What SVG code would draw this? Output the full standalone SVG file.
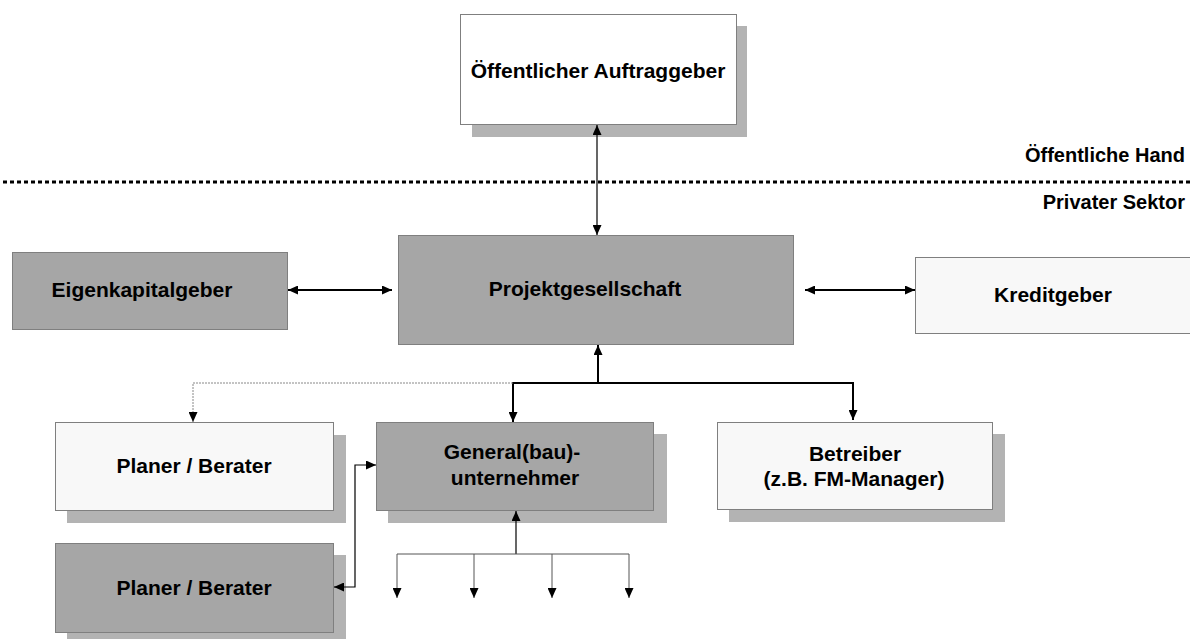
<svg xmlns="http://www.w3.org/2000/svg" width="1190" height="639" viewBox="0 0 1190 639">
<style>
.t{font-family:"Liberation Sans",Arial,sans-serif;font-weight:bold;font-size:21px;fill:#000;text-anchor:middle}
.s{font-family:"Liberation Sans",Arial,sans-serif;font-weight:bold;font-size:20px;fill:#000;text-anchor:end}
.sh{fill:#b3b3b3;stroke:none}
.g{fill:#a6a6a6;stroke:#7f7f7f;stroke-width:1}
.l{fill:#f8f8f8;stroke:#7f7f7f;stroke-width:1}
.w{fill:#ffffff;stroke:#7f7f7f;stroke-width:1}
.c{fill:none;stroke:#000;stroke-width:1.2}
.c2{fill:none;stroke:#000;stroke-width:2}
.c3{fill:none;stroke:#555;stroke-width:1}
.d{fill:none;stroke:#888;stroke-width:1;stroke-dasharray:2 1}
</style>
<defs>
<marker id="a" viewBox="0 0 10 9" refX="10" refY="4.5" markerWidth="10" markerHeight="9" markerUnits="userSpaceOnUse" orient="auto-start-reverse">
<path d="M0,0 L10,4.5 L0,9 z" fill="#000"/>
</marker>
</defs>
<line x1="3" y1="182" x2="1190" y2="182" stroke="#000" stroke-width="3" stroke-dasharray="4 3"/>
<text class="s" x="1185" y="162">Öffentliche Hand</text>
<text class="s" x="1185" y="209">Privater Sektor</text>
<g id="n-auftraggeber">
<rect class="sh" x="472" y="26" width="275" height="111"/>
<rect class="w" x="460.5" y="14.5" width="276" height="110"/>
<text class="t" x="598" y="78">Öffentlicher Auftraggeber</text>
</g>
<g id="n-eigenkapital">
<rect class="g" x="12.5" y="252.5" width="275" height="77"/>
<text class="t" x="142" y="297">Eigenkapitalgeber</text>
</g>
<g id="n-projekt">
<rect class="g" x="398.5" y="235.5" width="395" height="109"/>
<text class="t" x="585" y="296">Projektgesellschaft</text>
</g>
<g id="n-kredit">
<rect class="l" x="915.5" y="257.5" width="280" height="76"/>
<text class="t" x="1053" y="302">Kreditgeber</text>
</g>
<g id="n-planer1">
<rect class="sh" x="67" y="435" width="279" height="88"/>
<rect class="l" x="55.5" y="422.5" width="278" height="88"/>
<text class="t" x="194" y="473">Planer / Berater</text>
</g>
<g id="n-general">
<rect class="sh" x="388" y="434" width="279" height="89"/>
<rect class="g" x="376.5" y="422.5" width="277" height="88"/>
<text class="t" x="512" y="459">General(bau)-</text>
<text class="t" x="515" y="485">unternehmer</text>
</g>
<g id="n-betreiber">
<rect class="sh" x="729" y="434" width="276" height="88"/>
<rect class="l" x="717.5" y="422.5" width="275" height="87"/>
<text class="t" x="855" y="461">Betreiber</text>
<text class="t" x="854" y="486">(z.B. FM-Manager)</text>
</g>
<g id="n-planer2">
<rect class="sh" x="67" y="555" width="279" height="90"/>
<rect class="g" x="55.5" y="543.5" width="278" height="89"/>
<text class="t" x="194" y="595">Planer / Berater</text>
</g>
<g id="connectors">
<line class="c" x1="597" y1="125" x2="597" y2="235" marker-start="url(#a)" marker-end="url(#a)"/>
<line class="c2" x1="288" y1="290" x2="392" y2="290" marker-start="url(#a)" marker-end="url(#a)"/>
<line class="c2" x1="805" y1="290" x2="915" y2="290" marker-start="url(#a)" marker-end="url(#a)"/>
<line class="c2" x1="598" y1="383" x2="598" y2="345" marker-end="url(#a)"/>
<polyline class="c2" points="513,422 513,383 853,383 853,420" marker-start="url(#a)" marker-end="url(#a)"/>
<polyline class="d" points="513,383 193,383 193,422" marker-end="url(#a)"/>
<polyline class="c" points="376,465 355,465 355,587 334,587" marker-start="url(#a)" marker-end="url(#a)"/>
<line class="c" x1="516" y1="554" x2="516" y2="511" marker-end="url(#a)"/>
<line class="c3" x1="397" y1="554" x2="629" y2="554"/>
<line class="c3" x1="397" y1="554" x2="397" y2="598" marker-end="url(#a)"/>
<line class="c3" x1="474" y1="554" x2="474" y2="598" marker-end="url(#a)"/>
<line class="c3" x1="552" y1="554" x2="552" y2="598" marker-end="url(#a)"/>
<line class="c3" x1="629" y1="554" x2="629" y2="598" marker-end="url(#a)"/>
</g>
</svg>
